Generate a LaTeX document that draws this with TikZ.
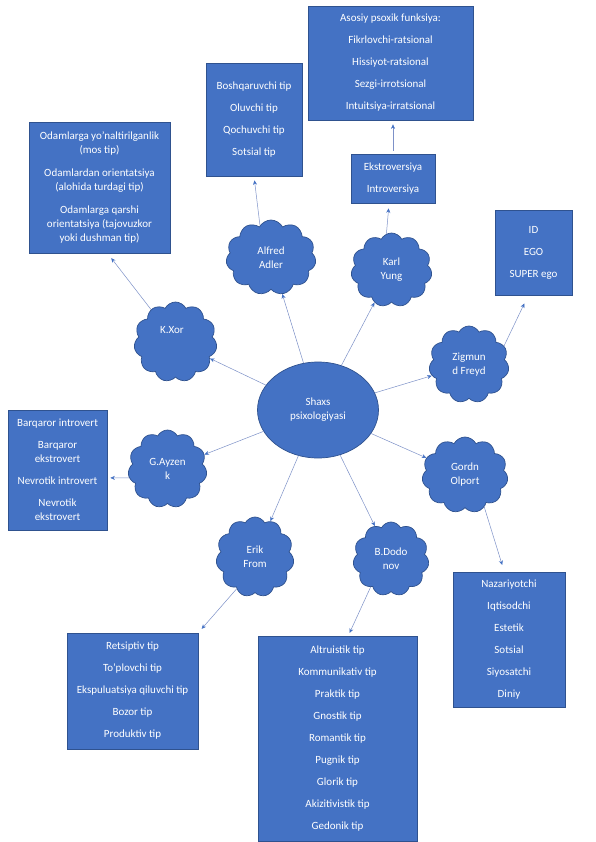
\documentclass[tikz,border=0pt]{standalone}
\usepackage{fontspec}
\setmainfont{Carlito}
\usetikzlibrary{shapes.symbols,shapes.geometric,arrows.meta,calc}
\definecolor{fillc}{RGB}{68,114,196}
\definecolor{bordc}{RGB}{47,82,143}
\definecolor{arrc}{RGB}{125,145,200}
\begin{document}
\begin{tikzpicture}[x=1pt,y=-1pt,
  box/.style={rectangle, draw=bordc, fill=fillc, line width=0.7pt, text=white,
    align=center, font=\fontsize{11}{14}\selectfont, inner sep=0pt},
  cl/.style={cloud, cloud puffs=11, cloud puff arc=125, cloud ignores aspect,
    draw=bordc, fill=fillc, line width=0.7pt, text=white, align=center,
    font=\fontsize{11}{14}\selectfont, inner sep=0pt},
  lbl/.style={text=white, align=center, font=\fontsize{11}{14}\selectfont, inner sep=0pt},
  arr/.style={draw=arrc, line width=0.5pt, -{Stealth[length=4.5pt,width=4pt,color=fillc,fill=fillc]}}
]
\useasboundingbox (0,0) rectangle (596,842);
\fill[white] (0,0) rectangle (596,842);

% boxes
\node[box, minimum width=165pt, minimum height=114pt] (asosiy) at (390.5,63)
  {Asosiy psoxik funksiya:\\[8pt]Fikrlovchi-ratsional\\[8pt]Hissiyot-ratsional\\[8pt]Sezgi-irrotsional\\[8pt]Intuitsiya-irratsional};
\node[box, minimum width=96pt, minimum height=113pt] (boshq) at (254,119.5)
  {Boshqaruvchi tip\\[8pt]Oluvchi tip\\[8pt]Qochuvchi tip\\[8pt]Sotsial tip};
\node[box, minimum width=84pt, minimum height=49pt] (ekstr) at (393,178.5)
  {Ekstroversiya\\[8pt]Introversiya};
\node[box, minimum width=141pt, minimum height=131pt] (odam) at (99.5,187.5)
  {Odamlarga yo'naltirilganlik\\(mos tip)\\[9pt]Odamlardan orientatsiya\\(alohida turdagi tip)\\[9pt]Odamlarga qarshi\\orientatsiya (tajovuzkor\\yoki dushman tip)};
\node[box, minimum width=77pt, minimum height=85pt] (id) at (533.5,252.5)
  {ID\\[8pt]EGO\\[8pt]SUPER ego};
\node[box, minimum width=99pt, minimum height=120pt] (barq) at (57.5,470)
  {Barqaror introvert\\[8pt]Barqaror\\ekstrovert\\[8pt]Nevrotik introvert\\[8pt]Nevrotik\\ekstrovert};
\node[box, minimum width=112pt, minimum height=135pt] (naz) at (509,639.5)
  {Nazariyotchi\\[8pt]Iqtisodchi\\[8pt]Estetik\\[8pt]Sotsial\\[8pt]Siyosatchi\\[8pt]Diniy};
\node[box, minimum width=131pt, minimum height=116pt] (rets) at (132.5,691)
  {Retsiptiv tip\\[8pt]To'plovchi tip\\[8pt]Ekspuluatsiya qiluvchi tip\\[8pt]Bozor tip\\[8pt]Produktiv tip};
\node[box, minimum width=159pt, minimum height=205pt] (altr) at (337.5,738.5)
  {Altruistik tip\\[8pt]Kommunikativ tip\\[8pt]Praktik tip\\[8pt]Gnostik tip\\[8pt]Romantik tip\\[8pt]Pugnik tip\\[8pt]Glorik tip\\[8pt]Akizitivistik tip\\[8pt]Gedonik tip};

% centre
\node[ellipse, draw=bordc, fill=fillc, line width=0.7pt, text=white, align=center,
  font=\fontsize{11}{14}\selectfont, inner sep=0pt,
  minimum width=121pt, minimum height=96pt] (shaxs) at (318,410) {Shaxs\\psixologiyasi};

% clouds
\node[cl, minimum width=83pt, minimum height=80pt] (kxor) at (175.5,342) {};
\node[lbl] (kxorT) at (172,330) {K.Xor};
\node[cl, minimum width=90pt, minimum height=75pt] (adler) at (271,257.5) {Alfred\\Adler};
\node[cl, minimum width=81pt, minimum height=74pt] (karl) at (391.5,270) {Karl\\Yung};
\node[cl, minimum width=80pt, minimum height=77pt] (zig) at (469,364.5) {Zigmun\\d Freyd};
\node[cl, minimum width=86pt, minimum height=76pt] (gordn) at (465,475) {Gordn\\Olport};
\node[cl, minimum width=76pt, minimum height=74pt] (dodo) at (391,559) {B.Dodo\\nov};
\node[cl, minimum width=78pt, minimum height=80pt] (erik) at (255,557) {Erik\\From};
\node[cl, minimum width=79pt, minimum height=78pt] (ayz) at (167.5,469) {G.Ayzen\\k};

% first level arrows
\draw[arr] (shaxs) -- (kxor);
\draw[arr] (shaxs) -- (adler);
\draw[arr] (shaxs) -- (karl);
\draw[arr] (shaxs) -- (zig);
\draw[arr] (shaxs) -- (gordn);
\draw[arr] (shaxs) -- (dodo);
\draw[arr] (shaxs) -- (erik);
\draw[arr] (shaxs) -- (ayz);

% second level arrows
\draw[arr, shorten >=6pt] (kxor.127) -- (odam.-83);
\draw[arr, shorten >=4pt] (adler.109) -- (boshq.south);
\draw[arr, shorten >=5pt] (karl.98) -- (ekstr.-99);
\draw[arr, shorten <=3pt, shorten >=4pt] (ekstr.north) -- (ekstr.north |- asosiy.south);
\draw[arr, shorten >=9pt] (zig.28) -- (id.-97);
\draw[arr, shorten >=7pt] (gordn.-59) -- (naz.94);
\draw[arr, shorten >=3pt] (ayz.-167) -- (barq.-9);
\draw[arr, shorten >=5pt] (erik.-120) -- (rets.north east);
\draw[arr, shorten >=3pt] (dodo.-126) -- (altr.84);
\end{tikzpicture}
\end{document}
